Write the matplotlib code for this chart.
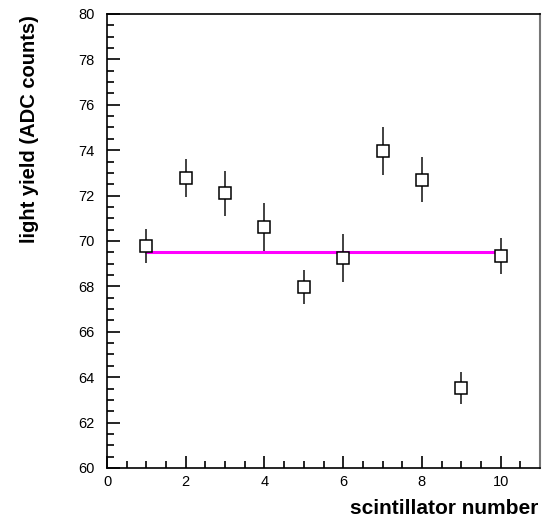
import matplotlib
matplotlib.use("Agg")
import matplotlib.pyplot as plt
from matplotlib.ticker import MultipleLocator

plt.rcParams['font.family'] = ['Liberation Sans', 'DejaVu Sans']

scint = [1, 2, 3, 4, 5, 6, 7, 8, 9, 10]
light_yield = [69.78, 72.77, 72.1, 70.62, 67.97, 69.25, 73.97, 72.7, 63.52, 69.34]
yield_err = [0.75, 0.85, 1.0, 1.05, 0.75, 1.07, 1.06, 1.0, 0.7, 0.8]
fit_x = [1, 10]
fit_y = [69.52, 69.52]

W, H = 550, 521
fig = plt.figure(figsize=(W/100, H/100), dpi=100)
ax = fig.add_axes([107/W, 1-468/H, (540-107)/W, (468-14)/H])

ax.plot(fit_x, fit_y, color='#ff00ff', lw=2.2, zorder=2)
ax.errorbar(scint, light_yield, yerr=yield_err, fmt='s', ms=9, mfc='white',
            mec='black', mew=1.1, ecolor='#333333', elinewidth=1.3, capsize=0, zorder=3)

ax.set_xlim(0, 11)
ax.set_ylim(60, 80)
ax.xaxis.set_major_locator(MultipleLocator(2))
ax.xaxis.set_minor_locator(MultipleLocator(0.5))
ax.yaxis.set_major_locator(MultipleLocator(2))
ax.yaxis.set_minor_locator(MultipleLocator(0.5))
ax.tick_params(which='both', direction='in', top=False, right=False, labelsize=10.5, width=1.2)
ax.tick_params(which='major', length=9)
ax.tick_params(which='minor', length=5)
ax.tick_params(axis='y', which='major', pad=9)
ax.tick_params(axis='x', which='major', pad=5)
for s in ax.spines.values():
    s.set_linewidth(1.2)
ax.spines['right'].set_color('#777777')
ax.spines['right'].set_linewidth(1.5)

fig.text(30/W, 1-15/H, 'light yield (ADC counts)', rotation=90, ha='center', va='top',
         fontsize=14.5, fontweight='bold')
fig.text(538/W, 1-508/H, 'scintillator number', ha='right', va='center',
         fontsize=15, fontweight='bold')

fig.savefig('out.png', dpi=100)
